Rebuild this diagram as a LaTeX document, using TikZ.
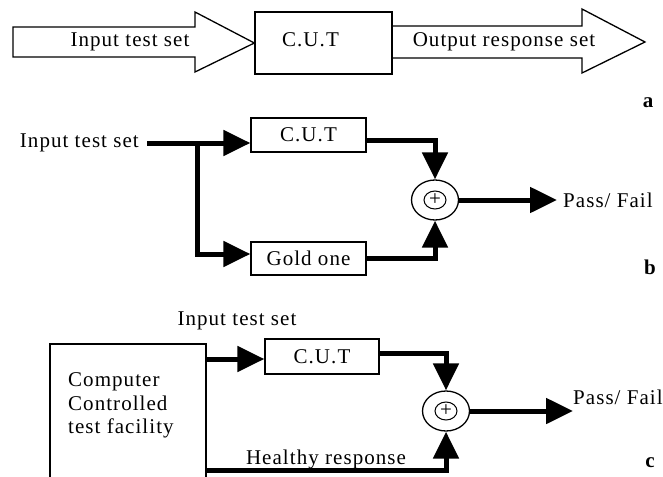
\documentclass[tikz,border=0pt]{standalone}
\usepackage{fontspec}
\setmainfont{Liberation Serif}
\newfontfamily\lblfont[LetterSpace=5]{Liberation Serif}
\usetikzlibrary{arrows.meta,shapes.geometric}
\begin{document}
\begin{tikzpicture}[x=1pt,y=-1pt,
  txt/.style={font=\lblfont\fontsize{21}{23.5}\selectfont, inner sep=0pt},
  box/.style={draw, line width=1.3pt, inner sep=0pt, txt},
  thk/.style={line width=5pt},
  tip/.style={-{Triangle[length=27pt,width=25pt]}},
  thin/.style={line width=1.3pt, line join=miter},
  xor/.style={draw, ellipse, line width=1.3pt, minimum width=47pt, minimum height=40pt, inner sep=0pt},
  plus/.style={draw, ellipse, line width=1pt, minimum width=22pt, minimum height=18pt, inner sep=0pt, font=\fontsize{21}{21}\selectfont},
  tag/.style={font=\bfseries\fontsize{21}{24}\selectfont, inner sep=0pt}]
\useasboundingbox (0,0) rectangle (663,476);
\clip (0,0) rectangle (663,476);
% ---------- a ----------
\node[box, minimum width=137pt, minimum height=62pt] (cutA) at (323.5,43) {};
\node[txt] (cutAt) at (310.5,40) {C.U.T};
\draw[thin] (13,27) -- (195,27) -- (195,12) -- (cutA.west) -- (195,72) -- (195,57) -- (13,57) -- cycle;
\node[txt] (inA) at (130,42) {Input test set};
\draw[thin] (392,26) -- (582,26) -- (582,9) -- (645,42) -- (582,73) -- (582,58) -- (392,58);
\node[txt] (outA) at (504,42) {Output response set};
\node[tag] (la) at (648,103) {a};
% ---------- b ----------
\node[txt, anchor=east] (inB) at (139,143) {Input test set};
\node[box, minimum width=115pt, minimum height=34pt] (cutB) at (308.5,135) {C.U.T};
\node[box, minimum width=115pt, minimum height=33pt] (goldB) at (308.5,258.5) {Gold one};
\node[xor] (xorB) at (435,200) {};
\node[plus] (plB) at (xorB) {+};
\node[txt, anchor=west] (pfB) at (563,200) {Pass/ Fail};
\coordinate (sB) at (147,143);
\coordinate (jB) at (197,143);
\coordinate (kB) at (197,254);
\draw[thk,tip] (sB) -- (cutB.west |- jB);
\draw[thk,tip] (jB) -- (kB) -- (goldB.west |- kB);
\draw[thk,tip] ([yshift=-5pt]cutB.east) -| (xorB.north);
\draw[thk,tip] (goldB.east) -| (xorB.south);
\draw[thk,tip] (xorB.east) -- ([xshift=-6pt]pfB.west |- xorB.east);
\node[tag] (lb) at (650,267) {b};
% ---------- c ----------
\node[txt] (inC) at (237,321) {Input test set};
\node[draw, line width=1.3pt, minimum width=156pt, minimum height=150pt, inner sep=0pt] (ccC) at (128,419) {};
\node[txt, align=left, anchor=west] (ccT) at (68,405.5) {Computer\\Controlled\\test facility};
\node[box, minimum width=114pt, minimum height=35pt] (cutC) at (322,356.5) {C.U.T};
\node[xor] (xorC) at (446,411) {};
\node[plus] (plC) at (xorC) {+};
\node[txt, anchor=west] (pfC) at (573,397) {Pass/ Fail};
\node[txt] (hrC) at (326,459) {Healthy response};
\coordinate (uC) at (206,359);
\coordinate (hC) at (206,470);
\draw[thk,tip] (uC) -- (cutC.west |- uC);
\draw[thk,tip] ([yshift=3.5pt]cutC.east) -| (xorC.north);
\draw[thk,tip] (hC) -| (xorC.south);
\draw[thk,tip] (xorC.east) -- (pfC.west |- xorC.east);
\node[tag] (lc) at (650,463) {c};
\end{tikzpicture}
\end{document}
